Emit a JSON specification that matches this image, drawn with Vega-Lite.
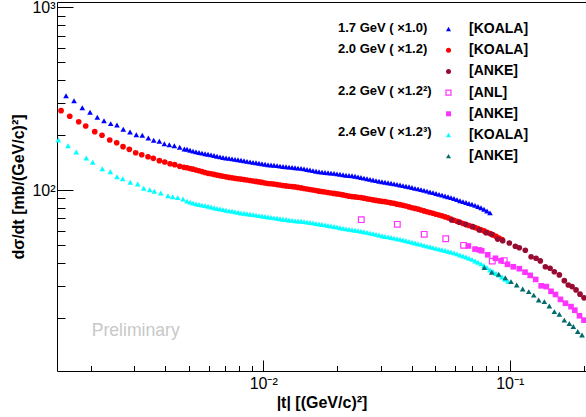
{
  "$schema": "https://vega.github.io/schema/vega-lite/v6.json",
  "width": 529,
  "height": 369,
  "autosize": {"type": "none"},
  "padding": {"left": 57, "top": 2, "right": 0, "bottom": 46},
  "background": "white",
  "config": {
    "view": {"stroke": null},
    "font": "Liberation Sans",
    "axis": {
      "grid": false,
      "domainColor": "black",
      "domainWidth": 1,
      "tickColor": "black",
      "tickWidth": 1,
      "labelFont": "Liberation Sans",
      "labelFontSize": 16,
      "labelColor": "black",
      "titleFont": "Liberation Sans",
      "titleFontSize": 16,
      "titleFontWeight": "bold",
      "titleColor": "black",
      "labelFlush": false,
      "labelOverlap": false
    }
  },
  "datasets": {
    "xsec": [
      {"series": "KOALA 1.7", "t": 0.001585, "dsdt": 328.1}, {"series": "KOALA 1.7", "t": 0.001708, "dsdt": 308.1}, {"series": "KOALA 1.7", "t": 0.001845, "dsdt": 282.1}, {"series": "KOALA 1.7", "t": 0.001983, "dsdt": 266.2}, {"series": "KOALA 1.7", "t": 0.002123, "dsdt": 250.0}, {"series": "KOALA 1.7", "t": 0.00226, "dsdt": 239.5}, {"series": "KOALA 1.7", "t": 0.002406, "dsdt": 230.7}, {"series": "KOALA 1.7", "t": 0.002551, "dsdt": 226.9}, {"series": "KOALA 1.7", "t": 0.002706, "dsdt": 214.9}, {"series": "KOALA 1.7", "t": 0.002881, "dsdt": 207.7},
      {"series": "KOALA 1.7", "t": 0.003056, "dsdt": 200.8}, {"series": "KOALA 1.7", "t": 0.003232, "dsdt": 199.3}, {"series": "KOALA 1.7", "t": 0.003419, "dsdt": 192.6}, {"series": "KOALA 1.7", "t": 0.003595, "dsdt": 187.1}, {"series": "KOALA 1.7", "t": 0.003789, "dsdt": 184.7}, {"series": "KOALA 1.7", "t": 0.003971, "dsdt": 179.2}, {"series": "KOALA 1.7", "t": 0.004159, "dsdt": 177.0}, {"series": "KOALA 1.7", "t": 0.004358, "dsdt": 174.8}, {"series": "KOALA 1.7", "t": 0.004584, "dsdt": 171.3}, {"series": "KOALA 1.7", "t": 0.004786, "dsdt": 167.7},
      {"series": "KOALA 1.7", "t": 0.004908, "dsdt": 167.0}, {"series": "KOALA 1.7", "t": 0.005048, "dsdt": 165.1}, {"series": "KOALA 1.7", "t": 0.005191, "dsdt": 163.3}, {"series": "KOALA 1.7", "t": 0.005338, "dsdt": 161.6}, {"series": "KOALA 1.7", "t": 0.00549, "dsdt": 160.4}, {"series": "KOALA 1.7", "t": 0.005646, "dsdt": 159.2}, {"series": "KOALA 1.7", "t": 0.005807, "dsdt": 158.0}, {"series": "KOALA 1.7", "t": 0.005972, "dsdt": 157.0}, {"series": "KOALA 1.7", "t": 0.006141, "dsdt": 155.6}, {"series": "KOALA 1.7", "t": 0.006316, "dsdt": 154.5},
      {"series": "KOALA 1.7", "t": 0.006495, "dsdt": 153.1}, {"series": "KOALA 1.7", "t": 0.00668, "dsdt": 151.8}, {"series": "KOALA 1.7", "t": 0.00687, "dsdt": 150.6}, {"series": "KOALA 1.7", "t": 0.007065, "dsdt": 149.7}, {"series": "KOALA 1.7", "t": 0.007266, "dsdt": 148.9}, {"series": "KOALA 1.7", "t": 0.007472, "dsdt": 148.0}, {"series": "KOALA 1.7", "t": 0.007685, "dsdt": 147.2}, {"series": "KOALA 1.7", "t": 0.007903, "dsdt": 146.3}, {"series": "KOALA 1.7", "t": 0.008128, "dsdt": 145.6}, {"series": "KOALA 1.7", "t": 0.008359, "dsdt": 144.5},
      {"series": "KOALA 1.7", "t": 0.008596, "dsdt": 143.4}, {"series": "KOALA 1.7", "t": 0.008841, "dsdt": 142.5}, {"series": "KOALA 1.7", "t": 0.009092, "dsdt": 141.6}, {"series": "KOALA 1.7", "t": 0.00935, "dsdt": 140.9}, {"series": "KOALA 1.7", "t": 0.009616, "dsdt": 140.0}, {"series": "KOALA 1.7", "t": 0.009889, "dsdt": 139.3}, {"series": "KOALA 1.7", "t": 0.01017, "dsdt": 138.4}, {"series": "KOALA 1.7", "t": 0.01046, "dsdt": 137.6}, {"series": "KOALA 1.7", "t": 0.01076, "dsdt": 137.0}, {"series": "KOALA 1.7", "t": 0.01106, "dsdt": 136.7},
      {"series": "KOALA 1.7", "t": 0.01138, "dsdt": 136.0}, {"series": "KOALA 1.7", "t": 0.0117, "dsdt": 135.2}, {"series": "KOALA 1.7", "t": 0.01203, "dsdt": 134.6}, {"series": "KOALA 1.7", "t": 0.01237, "dsdt": 134.0}, {"series": "KOALA 1.7", "t": 0.01273, "dsdt": 133.5}, {"series": "KOALA 1.7", "t": 0.01309, "dsdt": 133.0}, {"series": "KOALA 1.7", "t": 0.01346, "dsdt": 132.5}, {"series": "KOALA 1.7", "t": 0.01384, "dsdt": 131.8}, {"series": "KOALA 1.7", "t": 0.01424, "dsdt": 131.3}, {"series": "KOALA 1.7", "t": 0.01464, "dsdt": 130.5},
      {"series": "KOALA 1.7", "t": 0.01506, "dsdt": 129.6}, {"series": "KOALA 1.7", "t": 0.01548, "dsdt": 128.7}, {"series": "KOALA 1.7", "t": 0.01592, "dsdt": 127.7}, {"series": "KOALA 1.7", "t": 0.01638, "dsdt": 126.7}, {"series": "KOALA 1.7", "t": 0.01684, "dsdt": 125.8}, {"series": "KOALA 1.7", "t": 0.01732, "dsdt": 125.2}, {"series": "KOALA 1.7", "t": 0.01781, "dsdt": 124.7}, {"series": "KOALA 1.7", "t": 0.01832, "dsdt": 124.2}, {"series": "KOALA 1.7", "t": 0.01884, "dsdt": 123.7}, {"series": "KOALA 1.7", "t": 0.01938, "dsdt": 123.3},
      {"series": "KOALA 1.7", "t": 0.01993, "dsdt": 122.5}, {"series": "KOALA 1.7", "t": 0.02049, "dsdt": 121.9}, {"series": "KOALA 1.7", "t": 0.02108, "dsdt": 121.1}, {"series": "KOALA 1.7", "t": 0.02167, "dsdt": 120.5}, {"series": "KOALA 1.7", "t": 0.02229, "dsdt": 120.1}, {"series": "KOALA 1.7", "t": 0.02292, "dsdt": 119.6}, {"series": "KOALA 1.7", "t": 0.02358, "dsdt": 118.9}, {"series": "KOALA 1.7", "t": 0.02425, "dsdt": 118.0}, {"series": "KOALA 1.7", "t": 0.02493, "dsdt": 117.1}, {"series": "KOALA 1.7", "t": 0.02564, "dsdt": 116.2},
      {"series": "KOALA 1.7", "t": 0.02637, "dsdt": 115.3}, {"series": "KOALA 1.7", "t": 0.02712, "dsdt": 114.4}, {"series": "KOALA 1.7", "t": 0.02789, "dsdt": 113.5}, {"series": "KOALA 1.7", "t": 0.02868, "dsdt": 112.5}, {"series": "KOALA 1.7", "t": 0.0295, "dsdt": 111.7}, {"series": "KOALA 1.7", "t": 0.03034, "dsdt": 111.0}, {"series": "KOALA 1.7", "t": 0.0312, "dsdt": 110.2}, {"series": "KOALA 1.7", "t": 0.03209, "dsdt": 109.6}, {"series": "KOALA 1.7", "t": 0.033, "dsdt": 108.9}, {"series": "KOALA 1.7", "t": 0.03394, "dsdt": 108.1},
      {"series": "KOALA 1.7", "t": 0.0349, "dsdt": 107.3}, {"series": "KOALA 1.7", "t": 0.03589, "dsdt": 106.5}, {"series": "KOALA 1.7", "t": 0.03691, "dsdt": 105.7}, {"series": "KOALA 1.7", "t": 0.03796, "dsdt": 104.9}, {"series": "KOALA 1.7", "t": 0.03904, "dsdt": 104.1}, {"series": "KOALA 1.7", "t": 0.04015, "dsdt": 103.2}, {"series": "KOALA 1.7", "t": 0.04129, "dsdt": 102.1}, {"series": "KOALA 1.7", "t": 0.04247, "dsdt": 101.4}, {"series": "KOALA 1.7", "t": 0.04367, "dsdt": 100.5}, {"series": "KOALA 1.7", "t": 0.04491, "dsdt": 99.6},
      {"series": "KOALA 1.7", "t": 0.04619, "dsdt": 98.6}, {"series": "KOALA 1.7", "t": 0.0475, "dsdt": 97.6}, {"series": "KOALA 1.7", "t": 0.04885, "dsdt": 96.8}, {"series": "KOALA 1.7", "t": 0.05024, "dsdt": 95.7}, {"series": "KOALA 1.7", "t": 0.05167, "dsdt": 94.6}, {"series": "KOALA 1.7", "t": 0.05314, "dsdt": 93.7}, {"series": "KOALA 1.7", "t": 0.05465, "dsdt": 92.8}, {"series": "KOALA 1.7", "t": 0.0562, "dsdt": 91.9}, {"series": "KOALA 1.7", "t": 0.0578, "dsdt": 90.9}, {"series": "KOALA 1.7", "t": 0.05944, "dsdt": 89.8},
      {"series": "KOALA 1.7", "t": 0.06113, "dsdt": 88.6}, {"series": "KOALA 1.7", "t": 0.06287, "dsdt": 87.4}, {"series": "KOALA 1.7", "t": 0.06465, "dsdt": 86.4}, {"series": "KOALA 1.7", "t": 0.06649, "dsdt": 85.4}, {"series": "KOALA 1.7", "t": 0.06838, "dsdt": 84.4}, {"series": "KOALA 1.7", "t": 0.07032, "dsdt": 83.5}, {"series": "KOALA 1.7", "t": 0.07232, "dsdt": 82.4}, {"series": "KOALA 1.7", "t": 0.07438, "dsdt": 81.2}, {"series": "KOALA 1.7", "t": 0.07649, "dsdt": 79.9}, {"series": "KOALA 1.7", "t": 0.07867, "dsdt": 78.4},
      {"series": "KOALA 1.7", "t": 0.0809, "dsdt": 76.8}, {"series": "KOALA 1.7", "t": 0.0832, "dsdt": 75.0},

      {"series": "KOALA 2.0", "t": 0.001513, "dsdt": 271.7}, {"series": "KOALA 2.0", "t": 0.001641, "dsdt": 253.2}, {"series": "KOALA 2.0", "t": 0.001784, "dsdt": 236.5}, {"series": "KOALA 2.0", "t": 0.001905, "dsdt": 224.0}, {"series": "KOALA 2.0", "t": 0.002072, "dsdt": 208.5}, {"series": "KOALA 2.0", "t": 0.002218, "dsdt": 199.3}, {"series": "KOALA 2.0", "t": 0.002384, "dsdt": 187.8}, {"series": "KOALA 2.0", "t": 0.002544, "dsdt": 181.5}, {"series": "KOALA 2.0", "t": 0.002699, "dsdt": 172.6}, {"series": "KOALA 2.0", "t": 0.002863, "dsdt": 167.0},
      {"series": "KOALA 2.0", "t": 0.003038, "dsdt": 160.0}, {"series": "KOALA 2.0", "t": 0.003215, "dsdt": 156.0}, {"series": "KOALA 2.0", "t": 0.003409, "dsdt": 152.1}, {"series": "KOALA 2.0", "t": 0.003582, "dsdt": 149.1}, {"series": "KOALA 2.0", "t": 0.003789, "dsdt": 144.7}, {"series": "KOALA 2.0", "t": 0.003985, "dsdt": 142.3}, {"series": "KOALA 2.0", "t": 0.004187, "dsdt": 139.3}, {"series": "KOALA 2.0", "t": 0.004375, "dsdt": 137.6}, {"series": "KOALA 2.0", "t": 0.004584, "dsdt": 134.8}, {"series": "KOALA 2.0", "t": 0.004772, "dsdt": 133.1},
      {"series": "KOALA 2.0", "t": 0.004908, "dsdt": 132.3}, {"series": "KOALA 2.0", "t": 0.005048, "dsdt": 131.1}, {"series": "KOALA 2.0", "t": 0.005191, "dsdt": 130.0}, {"series": "KOALA 2.0", "t": 0.005338, "dsdt": 128.7}, {"series": "KOALA 2.0", "t": 0.00549, "dsdt": 127.5}, {"series": "KOALA 2.0", "t": 0.005646, "dsdt": 126.1}, {"series": "KOALA 2.0", "t": 0.005807, "dsdt": 124.7}, {"series": "KOALA 2.0", "t": 0.005972, "dsdt": 123.4}, {"series": "KOALA 2.0", "t": 0.006141, "dsdt": 122.7}, {"series": "KOALA 2.0", "t": 0.006316, "dsdt": 121.7},
      {"series": "KOALA 2.0", "t": 0.006495, "dsdt": 120.7}, {"series": "KOALA 2.0", "t": 0.00668, "dsdt": 119.8}, {"series": "KOALA 2.0", "t": 0.00687, "dsdt": 118.9}, {"series": "KOALA 2.0", "t": 0.007065, "dsdt": 118.0}, {"series": "KOALA 2.0", "t": 0.007266, "dsdt": 117.2}, {"series": "KOALA 2.0", "t": 0.007472, "dsdt": 116.6}, {"series": "KOALA 2.0", "t": 0.007685, "dsdt": 115.9}, {"series": "KOALA 2.0", "t": 0.007903, "dsdt": 115.3}, {"series": "KOALA 2.0", "t": 0.008128, "dsdt": 114.7}, {"series": "KOALA 2.0", "t": 0.008359, "dsdt": 114.0},
      {"series": "KOALA 2.0", "t": 0.008596, "dsdt": 113.4}, {"series": "KOALA 2.0", "t": 0.008841, "dsdt": 112.7}, {"series": "KOALA 2.0", "t": 0.009092, "dsdt": 112.0}, {"series": "KOALA 2.0", "t": 0.00935, "dsdt": 111.4}, {"series": "KOALA 2.0", "t": 0.009616, "dsdt": 110.7}, {"series": "KOALA 2.0", "t": 0.009889, "dsdt": 110.0}, {"series": "KOALA 2.0", "t": 0.01017, "dsdt": 109.2}, {"series": "KOALA 2.0", "t": 0.01046, "dsdt": 108.6}, {"series": "KOALA 2.0", "t": 0.01076, "dsdt": 108.2}, {"series": "KOALA 2.0", "t": 0.01106, "dsdt": 107.7},
      {"series": "KOALA 2.0", "t": 0.01138, "dsdt": 107.1}, {"series": "KOALA 2.0", "t": 0.0117, "dsdt": 106.5}, {"series": "KOALA 2.0", "t": 0.01203, "dsdt": 105.9}, {"series": "KOALA 2.0", "t": 0.01237, "dsdt": 105.3}, {"series": "KOALA 2.0", "t": 0.01273, "dsdt": 104.9}, {"series": "KOALA 2.0", "t": 0.01309, "dsdt": 104.4}, {"series": "KOALA 2.0", "t": 0.01346, "dsdt": 104.0}, {"series": "KOALA 2.0", "t": 0.01384, "dsdt": 103.3}, {"series": "KOALA 2.0", "t": 0.01424, "dsdt": 102.7}, {"series": "KOALA 2.0", "t": 0.01464, "dsdt": 101.9},
      {"series": "KOALA 2.0", "t": 0.01506, "dsdt": 101.3}, {"series": "KOALA 2.0", "t": 0.01548, "dsdt": 100.6}, {"series": "KOALA 2.0", "t": 0.01592, "dsdt": 100.0}, {"series": "KOALA 2.0", "t": 0.01638, "dsdt": 99.4}, {"series": "KOALA 2.0", "t": 0.01684, "dsdt": 98.6}, {"series": "KOALA 2.0", "t": 0.01732, "dsdt": 98.0}, {"series": "KOALA 2.0", "t": 0.01781, "dsdt": 97.5}, {"series": "KOALA 2.0", "t": 0.01832, "dsdt": 96.9}, {"series": "KOALA 2.0", "t": 0.01884, "dsdt": 96.3}, {"series": "KOALA 2.0", "t": 0.01938, "dsdt": 95.8},
      {"series": "KOALA 2.0", "t": 0.01993, "dsdt": 95.2}, {"series": "KOALA 2.0", "t": 0.02049, "dsdt": 94.7}, {"series": "KOALA 2.0", "t": 0.02108, "dsdt": 94.0}, {"series": "KOALA 2.0", "t": 0.02167, "dsdt": 93.3}, {"series": "KOALA 2.0", "t": 0.02229, "dsdt": 92.5}, {"series": "KOALA 2.0", "t": 0.02292, "dsdt": 92.0}, {"series": "KOALA 2.0", "t": 0.02358, "dsdt": 91.7}, {"series": "KOALA 2.0", "t": 0.02425, "dsdt": 91.3}, {"series": "KOALA 2.0", "t": 0.02493, "dsdt": 90.9}, {"series": "KOALA 2.0", "t": 0.02564, "dsdt": 90.2},
      {"series": "KOALA 2.0", "t": 0.02637, "dsdt": 89.5}, {"series": "KOALA 2.0", "t": 0.02712, "dsdt": 89.0}, {"series": "KOALA 2.0", "t": 0.02789, "dsdt": 88.3}, {"series": "KOALA 2.0", "t": 0.02868, "dsdt": 87.7}, {"series": "KOALA 2.0", "t": 0.0295, "dsdt": 87.2}, {"series": "KOALA 2.0", "t": 0.03034, "dsdt": 86.7}, {"series": "KOALA 2.0", "t": 0.0312, "dsdt": 86.3}, {"series": "KOALA 2.0", "t": 0.03209, "dsdt": 85.7}, {"series": "KOALA 2.0", "t": 0.033, "dsdt": 85.0}, {"series": "KOALA 2.0", "t": 0.03394, "dsdt": 84.5},
      {"series": "KOALA 2.0", "t": 0.0349, "dsdt": 83.7}, {"series": "KOALA 2.0", "t": 0.03589, "dsdt": 83.1}, {"series": "KOALA 2.0", "t": 0.03691, "dsdt": 82.4}, {"series": "KOALA 2.0", "t": 0.03796, "dsdt": 81.7}, {"series": "KOALA 2.0", "t": 0.03904, "dsdt": 80.8}, {"series": "KOALA 2.0", "t": 0.04015, "dsdt": 80.0}, {"series": "KOALA 2.0", "t": 0.04129, "dsdt": 79.3}, {"series": "KOALA 2.0", "t": 0.04247, "dsdt": 78.6}, {"series": "KOALA 2.0", "t": 0.04367, "dsdt": 77.7}, {"series": "KOALA 2.0", "t": 0.04491, "dsdt": 76.8},
      {"series": "KOALA 2.0", "t": 0.04619, "dsdt": 76.0}, {"series": "KOALA 2.0", "t": 0.0475, "dsdt": 75.3}, {"series": "KOALA 2.0", "t": 0.04885, "dsdt": 74.6}, {"series": "KOALA 2.0", "t": 0.05024, "dsdt": 73.7}, {"series": "KOALA 2.0", "t": 0.05167, "dsdt": 73.0}, {"series": "KOALA 2.0", "t": 0.05314, "dsdt": 72.2}, {"series": "KOALA 2.0", "t": 0.05465, "dsdt": 71.3}, {"series": "KOALA 2.0", "t": 0.0562, "dsdt": 70.4}, {"series": "KOALA 2.0", "t": 0.0578, "dsdt": 69.3}, {"series": "KOALA 2.0", "t": 0.05944, "dsdt": 68.3},
      {"series": "KOALA 2.0", "t": 0.06113, "dsdt": 67.4}, {"series": "KOALA 2.0", "t": 0.06287, "dsdt": 66.6}, {"series": "KOALA 2.0", "t": 0.06465, "dsdt": 65.6}, {"series": "KOALA 2.0", "t": 0.06649, "dsdt": 64.7}, {"series": "KOALA 2.0", "t": 0.06838, "dsdt": 63.9}, {"series": "KOALA 2.0", "t": 0.07032, "dsdt": 63.1}, {"series": "KOALA 2.0", "t": 0.07232, "dsdt": 62.3}, {"series": "KOALA 2.0", "t": 0.07438, "dsdt": 61.5}, {"series": "KOALA 2.0", "t": 0.07649, "dsdt": 60.6}, {"series": "KOALA 2.0", "t": 0.07867, "dsdt": 59.7},
      {"series": "KOALA 2.0", "t": 0.0809, "dsdt": 58.6}, {"series": "KOALA 2.0", "t": 0.0832, "dsdt": 57.8}, {"series": "KOALA 2.0", "t": 0.08556, "dsdt": 56.8}, {"series": "KOALA 2.0", "t": 0.088, "dsdt": 55.7}, {"series": "KOALA 2.0", "t": 0.0905, "dsdt": 54.5}, {"series": "KOALA 2.0", "t": 0.09307, "dsdt": 53.6},

      {"series": "ANKE 2.0", "t": 0.05817, "dsdt": 68.5}, {"series": "ANKE 2.0", "t": 0.06246, "dsdt": 66.6}, {"series": "ANKE 2.0", "t": 0.06631, "dsdt": 64.9}, {"series": "ANKE 2.0", "t": 0.07078, "dsdt": 63.0}, {"series": "ANKE 2.0", "t": 0.07528, "dsdt": 60.4}, {"series": "ANKE 2.0", "t": 0.08015, "dsdt": 58.4}, {"series": "ANKE 2.0", "t": 0.08453, "dsdt": 57.2}, {"series": "ANKE 2.0", "t": 0.08939, "dsdt": 53.9}, {"series": "ANKE 2.0", "t": 0.09369, "dsdt": 52.8}, {"series": "ANKE 2.0", "t": 0.09963, "dsdt": 51.3},
      {"series": "ANKE 2.0", "t": 0.1054, "dsdt": 49.2}, {"series": "ANKE 2.0", "t": 0.1094, "dsdt": 48.3}, {"series": "ANKE 2.0", "t": 0.1157, "dsdt": 46.8}, {"series": "ANKE 2.0", "t": 0.1221, "dsdt": 43.1}, {"series": "ANKE 2.0", "t": 0.1279, "dsdt": 42.3}, {"series": "ANKE 2.0", "t": 0.1331, "dsdt": 40.9}, {"series": "ANKE 2.0", "t": 0.1395, "dsdt": 38.0}, {"series": "ANKE 2.0", "t": 0.1458, "dsdt": 37.3}, {"series": "ANKE 2.0", "t": 0.1517, "dsdt": 35.7}, {"series": "ANKE 2.0", "t": 0.159, "dsdt": 34.3},
      {"series": "ANKE 2.0", "t": 0.1666, "dsdt": 31.9}, {"series": "ANKE 2.0", "t": 0.1729, "dsdt": 30.2}, {"series": "ANKE 2.0", "t": 0.179, "dsdt": 29.6}, {"series": "ANKE 2.0", "t": 0.1858, "dsdt": 28.4}, {"series": "ANKE 2.0", "t": 0.1929, "dsdt": 26.9}, {"series": "ANKE 2.0", "t": 0.2002, "dsdt": 25.7},

      {"series": "ANL 2.2", "t": 0.025, "dsdt": 68.8}, {"series": "ANL 2.2", "t": 0.035, "dsdt": 64.9}, {"series": "ANL 2.2", "t": 0.045, "dsdt": 57.2}, {"series": "ANL 2.2", "t": 0.055, "dsdt": 54.1}, {"series": "ANL 2.2", "t": 0.065, "dsdt": 49.8}, {"series": "ANL 2.2", "t": 0.085, "dsdt": 40.8}, {"series": "ANL 2.2", "t": 0.095, "dsdt": 41.1},

      {"series": "ANKE 2.2", "t": 0.06795, "dsdt": 49.4}, {"series": "ANKE 2.2", "t": 0.07233, "dsdt": 47.5}, {"series": "ANKE 2.2", "t": 0.07528, "dsdt": 47.0}, {"series": "ANKE 2.2", "t": 0.07701, "dsdt": 46.5}, {"series": "ANKE 2.2", "t": 0.08145, "dsdt": 44.2}, {"series": "ANKE 2.2", "t": 0.08756, "dsdt": 42.3}, {"series": "ANKE 2.2", "t": 0.09222, "dsdt": 41.0}, {"series": "ANKE 2.2", "t": 0.09797, "dsdt": 39.2}, {"series": "ANKE 2.2", "t": 0.1034, "dsdt": 38.0}, {"series": "ANKE 2.2", "t": 0.1094, "dsdt": 37.1},
      {"series": "ANKE 2.2", "t": 0.1154, "dsdt": 35.5}, {"series": "ANKE 2.2", "t": 0.1211, "dsdt": 34.1}, {"series": "ANKE 2.2", "t": 0.1275, "dsdt": 32.4}, {"series": "ANKE 2.2", "t": 0.1342, "dsdt": 29.9}, {"series": "ANKE 2.2", "t": 0.1408, "dsdt": 29.6}, {"series": "ANKE 2.2", "t": 0.1471, "dsdt": 27.9}, {"series": "ANKE 2.2", "t": 0.1534, "dsdt": 26.8}, {"series": "ANKE 2.2", "t": 0.1607, "dsdt": 25.2}, {"series": "ANKE 2.2", "t": 0.1684, "dsdt": 24.0}, {"series": "ANKE 2.2", "t": 0.1773, "dsdt": 23.0},
      {"series": "ANKE 2.2", "t": 0.1837, "dsdt": 22.0}, {"series": "ANKE 2.2", "t": 0.1919, "dsdt": 20.5}, {"series": "ANKE 2.2", "t": 0.2002, "dsdt": 19.4},

      {"series": "KOALA 2.4", "t": 0.001475, "dsdt": 187.8}, {"series": "KOALA 2.4", "t": 0.001615, "dsdt": 174.8}, {"series": "KOALA 2.4", "t": 0.001744, "dsdt": 161.4}, {"series": "KOALA 2.4", "t": 0.001916, "dsdt": 149.7}, {"series": "KOALA 2.4", "t": 0.002034, "dsdt": 141.8}, {"series": "KOALA 2.4", "t": 0.002224, "dsdt": 130.8}, {"series": "KOALA 2.4", "t": 0.002397, "dsdt": 125.9}, {"series": "KOALA 2.4", "t": 0.002551, "dsdt": 118.2}, {"series": "KOALA 2.4", "t": 0.002692, "dsdt": 115.3}, {"series": "KOALA 2.4", "t": 0.002889, "dsdt": 110.2},
      {"series": "KOALA 2.4", "t": 0.003096, "dsdt": 107.9}, {"series": "KOALA 2.4", "t": 0.003275, "dsdt": 102.2}, {"series": "KOALA 2.4", "t": 0.003464, "dsdt": 100.4}, {"series": "KOALA 2.4", "t": 0.003616, "dsdt": 98.4}, {"series": "KOALA 2.4", "t": 0.003838, "dsdt": 96.3}, {"series": "KOALA 2.4", "t": 0.004109, "dsdt": 93.1}, {"series": "KOALA 2.4", "t": 0.004294, "dsdt": 91.9}, {"series": "KOALA 2.4", "t": 0.004499, "dsdt": 90.8}, {"series": "KOALA 2.4", "t": 0.004727, "dsdt": 89.3},
      {"series": "KOALA 2.4", "t": 0.004908, "dsdt": 86.9}, {"series": "KOALA 2.4", "t": 0.005048, "dsdt": 85.8}, {"series": "KOALA 2.4", "t": 0.005191, "dsdt": 84.8}, {"series": "KOALA 2.4", "t": 0.005338, "dsdt": 84.0}, {"series": "KOALA 2.4", "t": 0.00549, "dsdt": 83.3}, {"series": "KOALA 2.4", "t": 0.005646, "dsdt": 82.7}, {"series": "KOALA 2.4", "t": 0.005807, "dsdt": 82.1}, {"series": "KOALA 2.4", "t": 0.005972, "dsdt": 81.5}, {"series": "KOALA 2.4", "t": 0.006141, "dsdt": 80.7}, {"series": "KOALA 2.4", "t": 0.006316, "dsdt": 79.9},
      {"series": "KOALA 2.4", "t": 0.006495, "dsdt": 79.2}, {"series": "KOALA 2.4", "t": 0.00668, "dsdt": 78.7}, {"series": "KOALA 2.4", "t": 0.00687, "dsdt": 78.1}, {"series": "KOALA 2.4", "t": 0.007065, "dsdt": 77.5}, {"series": "KOALA 2.4", "t": 0.007266, "dsdt": 76.9}, {"series": "KOALA 2.4", "t": 0.007472, "dsdt": 76.6}, {"series": "KOALA 2.4", "t": 0.007685, "dsdt": 76.1}, {"series": "KOALA 2.4", "t": 0.007903, "dsdt": 75.5}, {"series": "KOALA 2.4", "t": 0.008128, "dsdt": 74.9}, {"series": "KOALA 2.4", "t": 0.008359, "dsdt": 74.6},
      {"series": "KOALA 2.4", "t": 0.008596, "dsdt": 74.1}, {"series": "KOALA 2.4", "t": 0.008841, "dsdt": 73.7}, {"series": "KOALA 2.4", "t": 0.009092, "dsdt": 73.3}, {"series": "KOALA 2.4", "t": 0.00935, "dsdt": 72.9}, {"series": "KOALA 2.4", "t": 0.009616, "dsdt": 72.4}, {"series": "KOALA 2.4", "t": 0.009889, "dsdt": 72.1}, {"series": "KOALA 2.4", "t": 0.01017, "dsdt": 71.6}, {"series": "KOALA 2.4", "t": 0.01046, "dsdt": 71.2}, {"series": "KOALA 2.4", "t": 0.01076, "dsdt": 70.8}, {"series": "KOALA 2.4", "t": 0.01106, "dsdt": 70.4},
      {"series": "KOALA 2.4", "t": 0.01138, "dsdt": 70.0}, {"series": "KOALA 2.4", "t": 0.0117, "dsdt": 69.6}, {"series": "KOALA 2.4", "t": 0.01203, "dsdt": 69.2}, {"series": "KOALA 2.4", "t": 0.01237, "dsdt": 68.9}, {"series": "KOALA 2.4", "t": 0.01273, "dsdt": 68.5}, {"series": "KOALA 2.4", "t": 0.01309, "dsdt": 68.2}, {"series": "KOALA 2.4", "t": 0.01346, "dsdt": 67.8}, {"series": "KOALA 2.4", "t": 0.01384, "dsdt": 67.7}, {"series": "KOALA 2.4", "t": 0.01424, "dsdt": 67.4}, {"series": "KOALA 2.4", "t": 0.01464, "dsdt": 67.1},
      {"series": "KOALA 2.4", "t": 0.01506, "dsdt": 66.7}, {"series": "KOALA 2.4", "t": 0.01548, "dsdt": 66.4}, {"series": "KOALA 2.4", "t": 0.01592, "dsdt": 66.1}, {"series": "KOALA 2.4", "t": 0.01638, "dsdt": 65.6}, {"series": "KOALA 2.4", "t": 0.01684, "dsdt": 65.2}, {"series": "KOALA 2.4", "t": 0.01732, "dsdt": 64.8}, {"series": "KOALA 2.4", "t": 0.01781, "dsdt": 64.4}, {"series": "KOALA 2.4", "t": 0.01832, "dsdt": 63.9}, {"series": "KOALA 2.4", "t": 0.01884, "dsdt": 63.5}, {"series": "KOALA 2.4", "t": 0.01938, "dsdt": 63.1},
      {"series": "KOALA 2.4", "t": 0.01993, "dsdt": 62.6}, {"series": "KOALA 2.4", "t": 0.02049, "dsdt": 62.2}, {"series": "KOALA 2.4", "t": 0.02108, "dsdt": 61.7}, {"series": "KOALA 2.4", "t": 0.02167, "dsdt": 61.3}, {"series": "KOALA 2.4", "t": 0.02229, "dsdt": 60.9}, {"series": "KOALA 2.4", "t": 0.02292, "dsdt": 60.6}, {"series": "KOALA 2.4", "t": 0.02358, "dsdt": 60.2}, {"series": "KOALA 2.4", "t": 0.02425, "dsdt": 59.9}, {"series": "KOALA 2.4", "t": 0.02493, "dsdt": 59.5}, {"series": "KOALA 2.4", "t": 0.02564, "dsdt": 59.1},
      {"series": "KOALA 2.4", "t": 0.02637, "dsdt": 58.6}, {"series": "KOALA 2.4", "t": 0.02712, "dsdt": 58.1}, {"series": "KOALA 2.4", "t": 0.02789, "dsdt": 57.7}, {"series": "KOALA 2.4", "t": 0.02868, "dsdt": 57.2}, {"series": "KOALA 2.4", "t": 0.0295, "dsdt": 56.7}, {"series": "KOALA 2.4", "t": 0.03034, "dsdt": 56.2}, {"series": "KOALA 2.4", "t": 0.0312, "dsdt": 55.7}, {"series": "KOALA 2.4", "t": 0.03209, "dsdt": 55.4}, {"series": "KOALA 2.4", "t": 0.033, "dsdt": 55.0}, {"series": "KOALA 2.4", "t": 0.03394, "dsdt": 54.5},
      {"series": "KOALA 2.4", "t": 0.0349, "dsdt": 54.1}, {"series": "KOALA 2.4", "t": 0.03589, "dsdt": 53.7}, {"series": "KOALA 2.4", "t": 0.03691, "dsdt": 53.3}, {"series": "KOALA 2.4", "t": 0.03796, "dsdt": 52.8}, {"series": "KOALA 2.4", "t": 0.03904, "dsdt": 52.3}, {"series": "KOALA 2.4", "t": 0.04015, "dsdt": 51.8}, {"series": "KOALA 2.4", "t": 0.04129, "dsdt": 51.3}, {"series": "KOALA 2.4", "t": 0.04247, "dsdt": 50.8}, {"series": "KOALA 2.4", "t": 0.04367, "dsdt": 50.4}, {"series": "KOALA 2.4", "t": 0.04491, "dsdt": 49.8},
      {"series": "KOALA 2.4", "t": 0.04619, "dsdt": 49.3}, {"series": "KOALA 2.4", "t": 0.0475, "dsdt": 48.9}, {"series": "KOALA 2.4", "t": 0.04885, "dsdt": 48.4}, {"series": "KOALA 2.4", "t": 0.05024, "dsdt": 47.9}, {"series": "KOALA 2.4", "t": 0.05167, "dsdt": 47.5}, {"series": "KOALA 2.4", "t": 0.05314, "dsdt": 47.1}, {"series": "KOALA 2.4", "t": 0.05465, "dsdt": 46.7}, {"series": "KOALA 2.4", "t": 0.0562, "dsdt": 46.2}, {"series": "KOALA 2.4", "t": 0.0578, "dsdt": 45.8}, {"series": "KOALA 2.4", "t": 0.05944, "dsdt": 45.3},
      {"series": "KOALA 2.4", "t": 0.06113, "dsdt": 44.7}, {"series": "KOALA 2.4", "t": 0.06287, "dsdt": 44.1}, {"series": "KOALA 2.4", "t": 0.06465, "dsdt": 43.5}, {"series": "KOALA 2.4", "t": 0.06649, "dsdt": 43.0}, {"series": "KOALA 2.4", "t": 0.06838, "dsdt": 42.3}, {"series": "KOALA 2.4", "t": 0.07032, "dsdt": 41.7}, {"series": "KOALA 2.4", "t": 0.07232, "dsdt": 40.9}, {"series": "KOALA 2.4", "t": 0.07438, "dsdt": 40.2}, {"series": "KOALA 2.4", "t": 0.07649, "dsdt": 39.4}, {"series": "KOALA 2.4", "t": 0.07867, "dsdt": 38.6},
      {"series": "KOALA 2.4", "t": 0.0809, "dsdt": 37.6}, {"series": "KOALA 2.4", "t": 0.0832, "dsdt": 36.5}, {"series": "KOALA 2.4", "t": 0.08556, "dsdt": 35.8}, {"series": "KOALA 2.4", "t": 0.088, "dsdt": 34.9}, {"series": "KOALA 2.4", "t": 0.0905, "dsdt": 34.2}, {"series": "KOALA 2.4", "t": 0.09307, "dsdt": 33.4}, {"series": "KOALA 2.4", "t": 0.09571, "dsdt": 32.5}, {"series": "KOALA 2.4", "t": 0.09843, "dsdt": 31.6},

      {"series": "ANKE 2.4", "t": 0.07889, "dsdt": 37.6}, {"series": "ANKE 2.4", "t": 0.08453, "dsdt": 35.5}, {"series": "ANKE 2.4", "t": 0.09022, "dsdt": 34.6}, {"series": "ANKE 2.4", "t": 0.09599, "dsdt": 33.1}, {"series": "ANKE 2.4", "t": 0.1012, "dsdt": 31.5}, {"series": "ANKE 2.4", "t": 0.1068, "dsdt": 30.2}, {"series": "ANKE 2.4", "t": 0.1129, "dsdt": 28.7}, {"series": "ANKE 2.4", "t": 0.1195, "dsdt": 27.8}, {"series": "ANKE 2.4", "t": 0.1252, "dsdt": 26.6}, {"series": "ANKE 2.4", "t": 0.1311, "dsdt": 25.0},
      {"series": "ANKE 2.4", "t": 0.1382, "dsdt": 24.5}, {"series": "ANKE 2.4", "t": 0.1448, "dsdt": 23.2}, {"series": "ANKE 2.4", "t": 0.1517, "dsdt": 21.6}, {"series": "ANKE 2.4", "t": 0.159, "dsdt": 20.9}, {"series": "ANKE 2.4", "t": 0.1666, "dsdt": 19.4}, {"series": "ANKE 2.4", "t": 0.1745, "dsdt": 18.6}, {"series": "ANKE 2.4", "t": 0.1812, "dsdt": 17.9}, {"series": "ANKE 2.4", "t": 0.1888, "dsdt": 16.8}, {"series": "ANKE 2.4", "t": 0.1965, "dsdt": 16.1}
    ],
    "energies": [
      {"row": "KOALA 1.7", "label": "1.7 GeV ( ×1.0)"},
      {"row": "KOALA 2.0", "label": "2.0 GeV ( ×1.2)"},
      {"row": "ANL 2.2", "label": "2.2 GeV ( ×1.2²)"},
      {"row": "KOALA 2.4", "label": "2.4 GeV ( ×1.2³)"}
    ]
  },
  "layer": [
    {
      "data": {"name": "xsec"},
      "mark": {"type": "point", "filled": true, "size": 32, "strokeWidth": 1.2, "opacity": 1},
      "encoding": {
        "x": {
          "field": "t", "type": "quantitative",
          "scale": {"type": "log", "domain": [0.0014567, 0.20397], "nice": false},
          "axis": {
            "orient": "bottom", "values": [0.01, 0.1], "tickSize": -11,
            "labelExpr": "datum.value < 0.05 ? '10⁻²' : '10⁻¹'",
            "labelPadding": 15, "title": "|t| [(GeV/c)²]", "titlePadding": 3
          }
        },
        "y": {
          "field": "dsdt", "type": "quantitative",
          "scale": {"type": "log", "domain": [10.219, 1069], "nice": false},
          "axis": {
            "orient": "left", "values": [100, 1000], "tickSize": -16,
            "labelExpr": "datum.value < 500 ? '10²' : '10³'",
            "labelPadding": 18, "title": "dσ/dt [mb/(GeV/c)²]", "titlePadding": 5
          }
        },
        "shape": {
          "field": "series", "type": "nominal",
          "scale": {
            "domain": ["KOALA 1.7", "KOALA 2.0", "ANKE 2.0", "ANL 2.2", "ANKE 2.2", "KOALA 2.4", "ANKE 2.4"],
            "range": ["triangle-up", "circle", "circle", "square", "square", "triangle-up", "triangle-up"]
          },
          "legend": {
            "orient": "none", "legendX": 384.5, "legendY": 20, "title": null, "padding": 0,
            "rowPadding": 7.2, "symbolSize": 25, "symbolStrokeWidth": 1.2, "labelOffset": 13.5,
            "labelFont": "Liberation Sans", "labelFontSize": 14, "labelFontWeight": "bold", "labelColor": "black",
            "labelExpr": "'[' + split(datum.label, ' ')[0] + ']'"
          }
        },
        "fill": {
          "field": "series", "type": "nominal",
          "scale": {
            "domain": ["KOALA 1.7", "KOALA 2.0", "ANKE 2.0", "ANL 2.2", "ANKE 2.2", "KOALA 2.4", "ANKE 2.4"],
            "range": ["#0000ff", "#ff0000", "#990a33", "transparent", "#ff33ff", "#00ffff", "#006b6b"]
          },
          "legend": {
            "orient": "none", "legendX": 384.5, "legendY": 20, "title": null, "padding": 0,
            "rowPadding": 7.2, "symbolSize": 25, "symbolStrokeWidth": 1.2, "labelOffset": 13.5,
            "labelFont": "Liberation Sans", "labelFontSize": 14, "labelFontWeight": "bold", "labelColor": "black",
            "labelExpr": "'[' + split(datum.label, ' ')[0] + ']'"
          }
        },
        "stroke": {
          "field": "series", "type": "nominal",
          "scale": {
            "domain": ["KOALA 1.7", "KOALA 2.0", "ANKE 2.0", "ANL 2.2", "ANKE 2.2", "KOALA 2.4", "ANKE 2.4"],
            "range": ["transparent", "transparent", "transparent", "#ff33ff", "transparent", "transparent", "transparent"]
          },
          "legend": {
            "orient": "none", "legendX": 384.5, "legendY": 20, "title": null, "padding": 0,
            "rowPadding": 7.2, "symbolSize": 25, "symbolStrokeWidth": 1.2, "labelOffset": 13.5,
            "labelFont": "Liberation Sans", "labelFontSize": 14, "labelFontWeight": "bold", "labelColor": "black",
            "labelExpr": "'[' + split(datum.label, ' ')[0] + ']'"
          }
        }
      }
    },
    {
      "data": {"values": [{}]},
      "mark": {"type": "text", "text": "Preliminary", "font": "Liberation Sans", "fontSize": 17.6, "color": "#c8c8c8", "align": "left", "baseline": "alphabetic"},
      "encoding": {
        "x": {
          "datum": 0.002015, "type": "quantitative",
          "axis": {
            "orient": "bottom", "values": [0.002, 0.003, 0.004, 0.005, 0.006, 0.007, 0.008, 0.009, 0.02, 0.03, 0.04, 0.05, 0.06, 0.07, 0.08, 0.09, 0.2],
            "tickSize": -5.5, "labels": false, "domain": false, "title": null
          }
        },
        "y": {
          "datum": 15.9, "type": "quantitative",
          "scale": {"type": "log", "domain": [10.219, 1069], "nice": false},
          "axis": {
            "orient": "left", "values": [20, 30, 40, 50, 60, 70, 80, 90, 200, 300, 400, 500, 600, 700, 800, 900],
            "tickSize": -8, "labels": false, "domain": false, "title": null
          }
        }
      }
    },
    {
      "data": {"name": "energies"},
      "mark": {"type": "text", "font": "Liberation Sans", "fontSize": 13, "fontWeight": "bold", "color": "black", "align": "left", "baseline": "middle"},
      "encoding": {
        "x": {"datum": 0.020114, "type": "quantitative", "axis": {"orient": "top", "domain": true, "ticks": false, "labels": false, "title": null}},
        "y": {
          "field": "row", "type": "nominal",
          "scale": {"type": "point", "domain": ["KOALA 1.7", "KOALA 2.0", "ANKE 2.0", "ANL 2.2", "ANKE 2.2", "KOALA 2.4", "ANKE 2.4"], "range": [26, 151.3], "padding": 0},
          "axis": null
        },
        "text": {"field": "label", "type": "nominal"}
      }
    }
  ],
  "resolve": {"axis": {"x": "independent", "y": "independent"}, "scale": {"y": "independent"}}
}
